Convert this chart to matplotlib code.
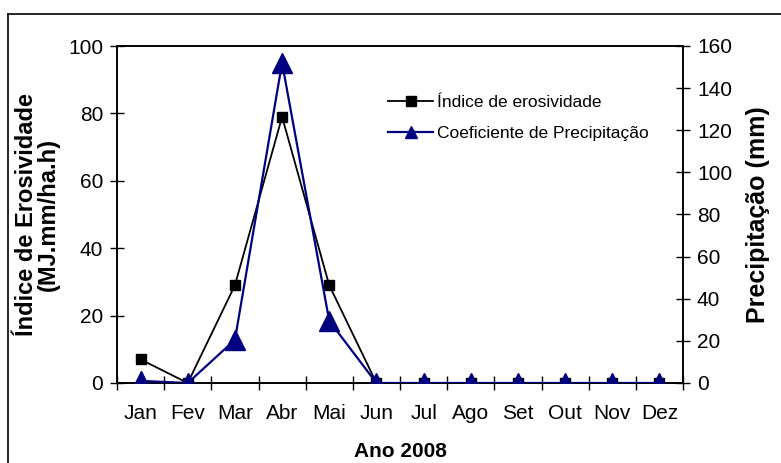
import matplotlib
matplotlib.use("Agg")
import matplotlib.pyplot as plt
from matplotlib.lines import Line2D
import numpy as np

months = ["Jan", "Fev", "Mar", "Abr", "Mai", "Jun", "Jul", "Ago", "Set", "Out", "Nov", "Dez"]
erosividade = [7, 0, 29, 79, 29, 0, 0, 0, 0, 0, 0, 0]
precipitacao = [1, 0, 20.5, 152, 29.5, 0, 0, 0, 0, 0, 0, 0]

plt.rcParams['font.family'] = ['Liberation Sans', 'DejaVu Sans']

W, H = 781, 463
fig = plt.figure(figsize=(W / 100, H / 100), dpi=100)
L, R, T, B = 117, 683, 46, 383
ax = fig.add_axes([L / W, 1 - B / H, (R - L) / W, (B - T) / H])
ax2 = ax.twinx()

x = np.arange(len(months))
navy = "#000080"
ax.plot(x, erosividade, color="black", lw=1.3, marker="s", ms=7.5, mfc="black", mec="black", zorder=3)
ax2.plot(x, precipitacao, color=navy, lw=1.6, marker="^", ms=14, mfc=navy, mec=navy, zorder=3)

ax.set_xlim(-0.5, len(months) - 0.5)
ax.set_ylim(0, 100)
ax2.set_ylim(0, 160)
ax.set_yticks(np.arange(0, 101, 20))
ax2.set_yticks(np.arange(0, 161, 20))
ax.set_xticks(x)
ax.set_xticklabels(months)
ax.set_xticks(np.arange(-0.5, len(months), 1), minor=True)
ax.tick_params(axis="x", which="major", length=0, pad=15, labelsize=15)
ax.tick_params(axis="x", which="minor", direction="inout", length=10, width=1)
ax.tick_params(axis="y", direction="inout", length=10, width=1, labelsize=15, pad=5)
ax2.tick_params(axis="y", direction="inout", length=10, width=1, labelsize=15, pad=5)

for a in (ax, ax2):
    for s in a.spines.values():
        s.set_linewidth(1.2)
        s.set_color("black")

ax.set_ylabel("Índice de Erosividade\n(MJ.mm/ha.h)", fontsize=17, fontweight="bold", labelpad=6, linespacing=0.95)
ax2.set_ylabel("Precipitação (mm)", fontsize=18, fontweight="bold", labelpad=10)
ax.set_xlabel("Ano 2008", fontsize=15, fontweight="bold", labelpad=14)

handles = [
    Line2D([], [], color="black", lw=1.3, marker="s", ms=7, mfc="black"),
    Line2D([], [], color=navy, lw=1.6, marker="^", ms=9, mfc=navy),
]
ax2.legend(handles, ["Índice de erosividade", "Coeficiente de Precipitação"],
           loc="upper left", bbox_to_anchor=((381 - L) / (R - L), (B - 88) / (B - T)),
           frameon=False, fontsize=12.5, handlelength=2.6, handletextpad=0.2, labelspacing=0.9,
           borderaxespad=0)

# outer border
fig.add_artist(Line2D([8 / W, 8 / W], [0, 1 - 14 / H], transform=fig.transFigure, color="black", lw=1.2))
fig.add_artist(Line2D([8 / W, 1], [1 - 14 / H, 1 - 14 / H], transform=fig.transFigure, color="black", lw=1.2))

fig.savefig("out.png", dpi=100)
